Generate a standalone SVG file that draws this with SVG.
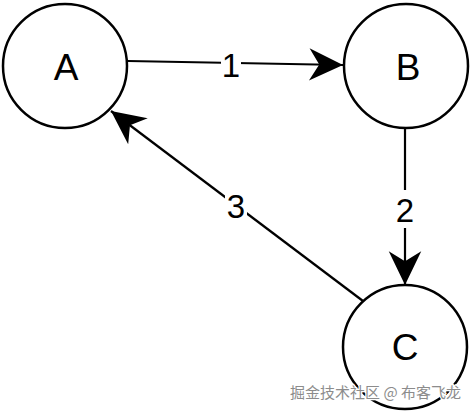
<svg xmlns="http://www.w3.org/2000/svg" width="472" height="413" viewBox="0 0 472 413">
<defs>
<style>
.node circle{fill:#fff;stroke:#000;stroke-width:2.5}
.node text{font-family:"Liberation Sans",Arial,sans-serif;font-size:37px;fill:#000;text-anchor:middle}
.edge line{stroke:#000;stroke-width:2.2;marker-end:url(#arr)}
.lbl{font-family:"Liberation Sans",Arial,sans-serif;font-size:33px;fill:#000;text-anchor:middle}
.bg{fill:#fff}
.wm{font-family:"Noto Sans CJK SC","Liberation Sans",sans-serif;font-size:15px;fill:#8c8c8c;stroke:#fff;stroke-width:2.5;paint-order:stroke;text-anchor:end}
</style>
<marker id="arr" markerUnits="userSpaceOnUse" markerWidth="40" markerHeight="40" viewBox="-30 -15 32 30" refX="0" refY="0" orient="auto">
<path d="M0,0 L-27,-13 L-19,0 L-27,13 Z" fill="#000"/>
</marker>
</defs>
<rect width="472" height="413" fill="#fff"/>
<g id="connectors">
<g class="edge" id="e1"><line x1="128" y1="61" x2="343" y2="65"/></g>
<g class="edge" id="e2"><line x1="405" y1="129" x2="405" y2="285"/></g>
<g class="edge" id="e3"><line x1="363" y1="301" x2="111" y2="111"/></g>
<rect class="bg" x="221" y="50" width="20" height="30"/>
<rect class="bg" x="394" y="190" width="22" height="38"/>
<rect class="bg" x="225" y="192" width="22" height="30"/>
<text class="lbl" x="231" y="77">1</text>
<text class="lbl" x="405" y="222">2</text>
<text class="lbl" x="236" y="218">3</text>
</g>
<g class="node" id="A"><circle cx="65" cy="66" r="62"/><text x="66" y="80">A</text></g>
<g class="node" id="B"><circle cx="406" cy="66" r="62"/><text x="408" y="80">B</text></g>
<g class="node" id="C"><circle cx="405" cy="347" r="62"/><text x="405" y="360">C</text></g>
<text class="wm" x="461" y="398">掘金技术社区 @ 布客飞龙</text>
</svg>
